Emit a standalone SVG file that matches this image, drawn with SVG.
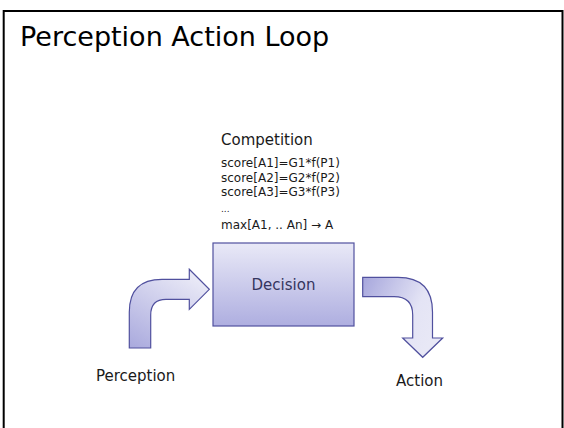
<svg xmlns="http://www.w3.org/2000/svg" width="564" height="428" viewBox="0 0 564 428">
<defs>
<style>
text{font-family:"DejaVu Sans","Liberation Sans",sans-serif;fill:#1a1a1a}
.t{font-size:27px;fill:#000}
.h{font-size:15px}
.s{font-size:12px}
.shape{stroke:#50509e;stroke-width:1.2}
</style>
<linearGradient id="gBox" x1="0" y1="0" x2="0" y2="1">
<stop offset="0" stop-color="#e9e9f7"/>
<stop offset="1" stop-color="#aeaee0"/>
</linearGradient>
<linearGradient id="gLeft" x1="0" y1="1" x2="0.6" y2="0">
<stop offset="0" stop-color="#a9a9dd"/>
<stop offset="1" stop-color="#e8e8f6"/>
</linearGradient>
<linearGradient id="gRight" x1="0" y1="0" x2="1" y2="0.5">
<stop offset="0" stop-color="#a6a6dc"/>
<stop offset="0.7" stop-color="#e4e4f5"/>
<stop offset="1" stop-color="#e8e8f6"/>
</linearGradient>
</defs>
<rect x="3.7" y="11" width="558.8" height="430" fill="#fff" stroke="#000" stroke-width="2"/>
<text class="t" x="20" y="46">Perception Action Loop</text>
<g id="competition">
<text class="h" x="221" y="145">Competition</text>
<text class="s" x="221" y="167">score[A1]=G1*f(P1)</text>
<text class="s" x="221" y="181.5">score[A2]=G2*f(P2)</text>
<text class="s" x="221" y="196">score[A3]=G3*f(P3)</text>
<text class="s" x="221" y="212" style="font-size:9px">...</text>
<text class="s" x="221" y="229">max[A1, .. An] → A</text>
</g>
<g id="decision">
<rect class="shape" x="213" y="243" width="141" height="83" fill="url(#gBox)"/>
<text class="h" x="283.5" y="290" text-anchor="middle" style="fill:#35355e">Decision</text>
</g>
<g id="connectors">
<path class="shape" fill="url(#gLeft)" d="M129.3,348 L129.3,312 Q129.3,279.3 162,279.3 L189.3,279.3 L189.3,269.3 L209.3,289.3 L189.3,309.3 L189.3,299.3 L166,299.3 Q150.7,299.3 150.7,315 L150.7,348 Z"/>
<path class="shape" fill="url(#gRight)" d="M362.7,277.3 L398,277.3 Q432.5,277.3 432.5,312 L432.5,338 L442.7,338 L422.7,357.3 L402.7,338 L412.7,338 L412.7,315 Q412.7,296.7 394,296.7 L362.7,296.7 Z"/>
</g>
<g id="perception">
<text class="h" x="96" y="381">Perception</text>
</g>
<g id="action">
<text class="h" x="396" y="386">Action</text>
</g>
</svg>
